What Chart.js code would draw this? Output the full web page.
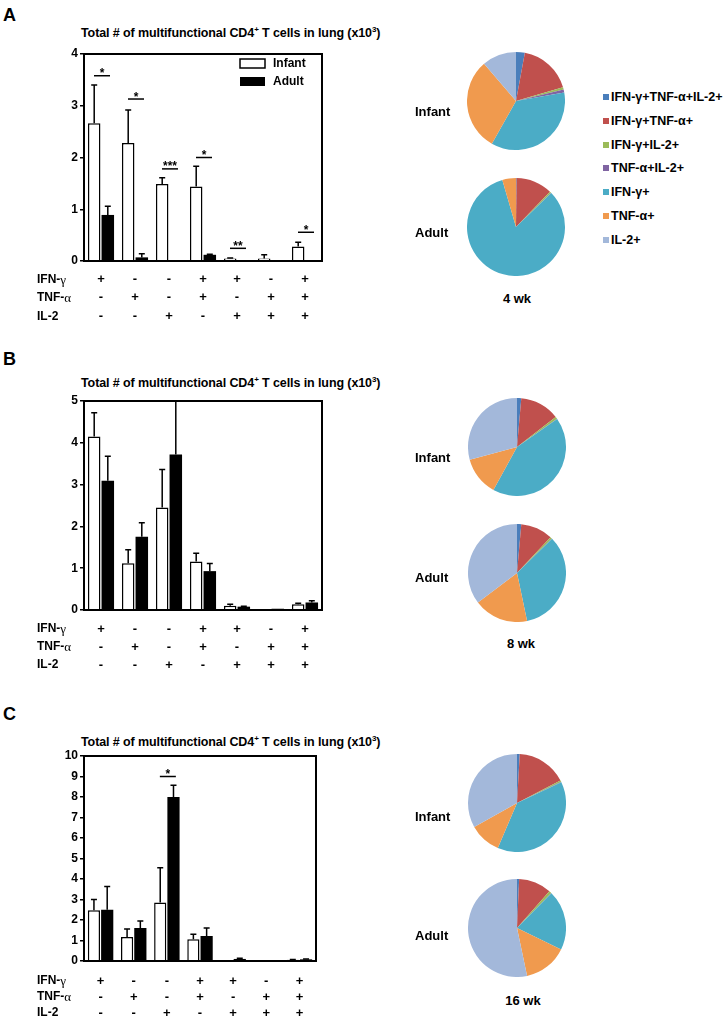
<!DOCTYPE html>
<html>
<head>
<meta charset="utf-8">
<script src="https://cdn.jsdelivr.net/npm/chart.js@4.4.0/dist/chart.umd.min.js"></script>
<style>
  body { margin: 0; background: #fff; width: 727px; height: 1022px; position: relative; overflow: hidden;
         font-family: "Liberation Sans", Arial, sans-serif; color: #000; }
  canvas { position: absolute; }
  .txt { position: absolute; font-weight: bold; white-space: nowrap; }
  .panel { font-size: 18px; left: 3px; line-height: 18px; }
  .title { font-size: 12.5px; left: 81px; line-height: 14px; letter-spacing: -0.1px; }
  .title sup { font-size: 8px; vertical-align: 5px; line-height: 0; }
  .plbl { font-size: 13px; left: 415px; line-height: 14px; }
  .wk { font-size: 13px; line-height: 14px; transform: translateX(-50%); }
  .leg { font-size: 12.5px; left: 611px; line-height: 14px; }
  .sq { position: absolute; width: 6px; height: 6px; left: 603px; }
</style>
</head>
<body>
<div class="txt panel" style="top:6px">A</div>
<div class="txt panel" style="top:350px">B</div>
<div class="txt panel" style="top:705px">C</div>

<div class="txt title" style="top:26px">Total # of multifunctional CD4<sup>+</sup> T cells in lung (x10<sup>3</sup>)</div>
<div class="txt title" style="top:376px">Total # of multifunctional CD4<sup>+</sup> T cells in lung (x10<sup>3</sup>)</div>
<div class="txt title" style="top:735px">Total # of multifunctional CD4<sup>+</sup> T cells in lung (x10<sup>3</sup>)</div>

<canvas id="bar4wk" width="440" height="325" style="left:0;top:0"></canvas>
<canvas id="bar8wk" width="440" height="345" style="left:0;top:330px"></canvas>
<canvas id="bar16wk" width="440" height="332" style="left:0;top:690px"></canvas>

<canvas id="pieInf4" width="98" height="98" style="left:467px;top:52px"></canvas>
<canvas id="pieAd4" width="98" height="98" style="left:467px;top:178px"></canvas>
<canvas id="pieInf8" width="98" height="98" style="left:468px;top:398px"></canvas>
<canvas id="pieAd8" width="98" height="98" style="left:468px;top:524px"></canvas>
<canvas id="pieInf16" width="98" height="98" style="left:468px;top:754px"></canvas>
<canvas id="pieAd16" width="98" height="98" style="left:468px;top:879px"></canvas>

<div class="txt plbl" style="top:105px">Infant</div>
<div class="txt plbl" style="top:226px">Adult</div>
<div class="txt plbl" style="top:451px">Infant</div>
<div class="txt plbl" style="top:571px">Adult</div>
<div class="txt plbl" style="top:810px">Infant</div>
<div class="txt plbl" style="top:929px">Adult</div>

<div class="txt wk" style="left:517px;top:292px">4 wk</div>
<div class="txt wk" style="left:521px;top:637px">8 wk</div>
<div class="txt wk" style="left:523px;top:994px">16 wk</div>

<div id="pieLegend"></div>

<script>
// rows under the x axis: which cytokines each bar group produces
const rowNames = [['IFN-', 'γ'], ['TNF-', 'α'], ['IL-2', '']];
const ifnRow = ['+', '-', '-', '+', '+', '-', '+'];
const tnfRow = ['-', '+', '-', '+', '-', '+', '+'];
const il2Row = ['-', '-', '+', '-', '+', '+', '+'];

// 4 wk (x10^3 cells), mean and upper error (SEM)
const infant4wk = [2.66, 2.28, 1.49, 1.44, 0.05, 0.05, 0.28];
const infant4wkErr = [0.74, 0.64, 0.12, 0.39, 0.01, 0.07, 0.08];
const adult4wk = [0.89, 0.07, 0, 0.12, 0.01, 0, 0.01];
const adult4wkErr = [0.17, 0.07, 0, 0.01, 0, 0, 0];
const sig4wk = ['*', '*', '***', '*', '**', '', '*'];
const sigAt4wk = [3.58, 3.13, 1.78, 2.0, 0.245, null, 0.555];

// 8 wk
const infant8wk = [4.15, 1.12, 2.45, 1.16, 0.10, 0.02, 0.14];
const infant8wkErr = [0.57, 0.32, 0.91, 0.20, 0.04, 0, 0.02];
const adult8wk = [3.09, 1.75, 3.72, 0.93, 0.08, 0.03, 0.18];
const adult8wkErr = [0.59, 0.34, 1.28, 0.18, 0.01, 0, 0.04];
const sig8wk = ['', '', '', '', '', '', ''];
const sigAt8wk = [null, null, null, null, null, null, null];

// 16 wk
const infant16wk = [2.47, 1.17, 2.85, 1.06, 0.02, 0.01, 0.06];
const infant16wkErr = [0.53, 0.39, 1.70, 0.24, 0, 0, 0.01];
const adult16wk = [2.50, 1.61, 8.0, 1.22, 0.10, 0.01, 0.08];
const adult16wkErr = [1.14, 0.34, 0.57, 0.39, 0.03, 0, 0.02];
const sig16wk = ['', '', '*', '', '', '', ''];
const sigAt16wk = [null, null, 9.0, null, null, null, null];

// pie fractions (%) per subset
const pieLabels = ['IFN-γ+TNF-α+IL-2+', 'IFN-γ+TNF-α+', 'IFN-γ+IL-2+', 'TNF-α+IL-2+', 'IFN-γ+', 'TNF-α+', 'IL-2+'];
const pieColors = ['#4A7EBB', '#C0504D', '#9BBB59', '#8064A2', '#4BACC6', '#F09A4E', '#A3B8DA'];
const pieInfant4wk = [2.9, 17.6, 0.7, 1.0, 36.0, 30.5, 11.3];
const pieAdult4wk = [0.2, 12.0, 0.5, 0.1, 82.7, 4.5, 0];
const pieInfant8wk = [1.4, 13.1, 0.7, 0.1, 42.7, 12.8, 29.2];
const pieAdult8wk = [1.4, 10.6, 0.6, 0.1, 34.0, 18.0, 35.3];
const pieInfant16wk = [0.9, 16.5, 0.5, 0.1, 38.4, 10.5, 33.1];
const pieAdult16wk = [0.7, 10.8, 0.8, 0.1, 19.8, 14.5, 53.3];

const FONT = '"Liberation Sans", Arial, sans-serif';

const decoPlugin = {
  id: 'deco',
  afterDatasetsDraw(chart, args, opts) {
    const ctx = chart.ctx;
    const area = chart.chartArea;
    const x = chart.scales.x;
    const y = chart.scales.y;
    ctx.save();
    ctx.strokeStyle = '#000';
    ctx.fillStyle = '#000';

    // error bars (upper only)
    ctx.lineWidth = 1.5;
    chart.data.datasets.forEach((ds, di) => {
      const meta = chart.getDatasetMeta(di);
      ds.err.forEach((e, i) => {
        if (!e) return;
        const bar = meta.data[i];
        const top = Math.max(y.getPixelForValue(ds.data[i] + e), area.top);
        ctx.beginPath();
        ctx.moveTo(bar.x, bar.y);
        ctx.lineTo(bar.x, top);
        ctx.moveTo(bar.x - 3, top);
        ctx.lineTo(bar.x + 3, top);
        ctx.stroke();
      });
    });

    // frame
    ctx.lineWidth = 2;
    ctx.strokeRect(area.left, area.top, area.width, area.height);

    // significance
    ctx.font = 'bold 12px ' + FONT;
    ctx.textAlign = 'center';
    ctx.textBaseline = 'alphabetic';
    ctx.lineWidth = 1.5;
    opts.sig.forEach((s, i) => {
      if (!s) return;
      const cx = x.getPixelForValue(i) + 1;
      const ly = y.getPixelForValue(opts.sigAt[i]);
      ctx.beginPath();
      ctx.moveTo(cx - 8, ly);
      ctx.lineTo(cx + 8, ly);
      ctx.stroke();
      ctx.fillText(s, cx, ly + 1.5);
    });

    // row names left of the +/- rows
    ctx.textAlign = 'left';
    ctx.textBaseline = 'middle';
    rowNames.forEach((r, i) => {
      const ry = area.bottom + opts.rowPad + opts.rowStep / 2 + i * opts.rowStep;
      ctx.font = 'bold 12px ' + FONT;
      ctx.fillText(r[0], 37, ry);
      const w = ctx.measureText(r[0]).width;
      ctx.font = '13px "Liberation Serif", serif';
      ctx.fillText(r[1], 37 + w, ry + 1);
    });

    // legend
    if (opts.legend) {
      ctx.font = 'bold 12px ' + FONT;
      ctx.fillStyle = '#fff';
      ctx.fillRect(240, 59, 25, 9);
      ctx.strokeRect(240, 59, 25, 9);
      ctx.fillStyle = '#000';
      ctx.fillRect(240, 77, 25, 9);
      ctx.fillText('Infant', 273, 64);
      ctx.fillText('Adult', 273, 82);
    }
    ctx.restore();
  }
};

function makeBarChart(id, infant, infantErr, adult, adultErr, sig, sigAt, layout) {
  return new Chart(document.getElementById(id), {
    type: 'bar',
    data: {
      labels: ifnRow.map((v, i) => [ifnRow[i], tnfRow[i], il2Row[i]]),
      datasets: [
        { label: 'Infant', data: infant, err: infantErr, backgroundColor: '#fff', borderColor: '#000', borderWidth: 1.5,
          barPercentage: 0.92, categoryPercentage: 0.8 },
        { label: 'Adult', data: adult, err: adultErr, backgroundColor: '#000', borderColor: '#000', borderWidth: 0,
          barPercentage: 0.92, categoryPercentage: 0.8 }
      ]
    },
    options: {
      responsive: false,
      animation: false,
      devicePixelRatio: 1,
      layout: { padding: { top: layout.top, right: layout.right, left: 0, bottom: 0 } },
      plugins: {
        legend: { display: false },
        tooltip: { enabled: false },
        deco: { sig: sig, sigAt: sigAt, rowPad: layout.rowPad, rowStep: layout.rowStep, legend: layout.legend }
      },
      scales: {
        x: {
          grid: { display: false, drawTicks: false, tickLength: 0 },
          border: { display: false },
          ticks: {
            color: '#000', autoRotate: false, maxRotation: 0, autoSkip: false, padding: layout.rowPad,
            font: { family: FONT, weight: 'bold', size: 13, lineHeight: layout.rowStep + 'px' }
          },
          afterFit: s => { s.height = layout.xAxisH; }
        },
        y: {
          min: 0,
          max: layout.yMax,
          border: { display: false },
          grid: { drawOnChartArea: false, drawTicks: true, tickLength: 4, color: '#000', lineWidth: 1.5 },
          ticks: { stepSize: 1, color: '#000', padding: 2, font: { family: FONT, weight: 'bold', size: 12 } },
          afterFit: s => { s.width = 84; }
        }
      }
    },
    plugins: [decoPlugin]
  });
}

makeBarChart('bar4wk', infant4wk, infant4wkErr, adult4wk, adult4wkErr, sig4wk, sigAt4wk,
  { top: 54, right: 118, xAxisH: 64, yMax: 4, rowPad: 9, rowStep: 18.5, legend: true });
makeBarChart('bar8wk', infant8wk, infant8wkErr, adult8wk, adult8wkErr, sig8wk, sigAt8wk,
  { top: 71, right: 118, xAxisH: 65, yMax: 5, rowPad: 10, rowStep: 18, legend: false });
makeBarChart('bar16wk', infant16wk, infant16wkErr, adult16wk, adult16wkErr, sig16wk, sigAt16wk,
  { top: 66, right: 124, xAxisH: 61, yMax: 10, rowPad: 12, rowStep: 16, legend: false });

function makePie(id, values) {
  return new Chart(document.getElementById(id), {
    type: 'pie',
    data: {
      labels: pieLabels,
      datasets: [{ data: values, backgroundColor: pieColors, borderWidth: 0 }]
    },
    options: {
      responsive: false,
      animation: false,
      devicePixelRatio: 1,
      plugins: { legend: { display: false }, tooltip: { enabled: false } }
    }
  });
}

makePie('pieInf4', pieInfant4wk);
makePie('pieAd4', pieAdult4wk);
makePie('pieInf8', pieInfant8wk);
makePie('pieAd8', pieAdult8wk);
makePie('pieInf16', pieInfant16wk);
makePie('pieAd16', pieAdult16wk);

// pie legend, next to the 4 wk pies
const legendBox = document.getElementById('pieLegend');
pieLabels.forEach((name, i) => {
  const y = 97 + i * 23.8;
  const sq = document.createElement('div');
  sq.className = 'sq';
  sq.style.top = (y - 3) + 'px';
  sq.style.background = pieColors[i];
  legendBox.appendChild(sq);
  const t = document.createElement('div');
  t.className = 'txt leg';
  t.style.top = (y - 7) + 'px';
  t.textContent = name;
  legendBox.appendChild(t);
});
</script>
</body>
</html>
